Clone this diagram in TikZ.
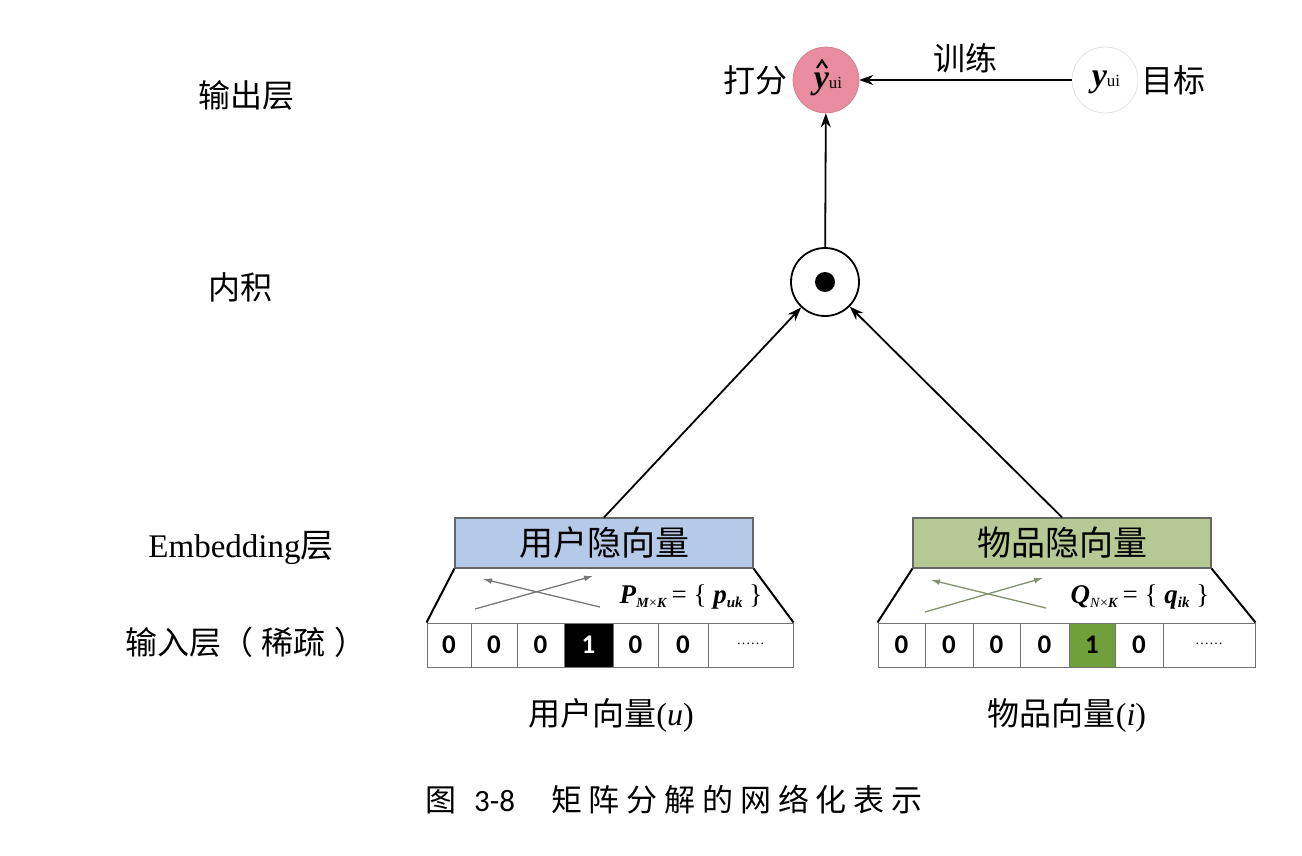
\documentclass[tikz,border=0pt]{standalone}
\usepackage{fontspec}
\setmainfont{Liberation Serif}
\newfontfamily\cjk{Noto Sans CJK SC}
\newfontfamily\cjkwide{Noto Sans CJK SC}[LetterSpace=22]
\newfontfamily\digitfont{Carlito}
\usetikzlibrary{arrows.meta}

\definecolor{pinkfill}{RGB}{234,140,160}
\definecolor{bluefill}{RGB}{181,202,232}
\definecolor{greenfill}{RGB}{182,201,148}
\definecolor{greencell}{RGB}{112,160,60}
\definecolor{crossgray}{RGB}{120,120,120}
\definecolor{crossgreen}{RGB}{130,145,110}

\tikzset{
  lbl/.style={font=\cjk\fontsize{32}{35}\selectfont, inner sep=0pt},
  conn/.style={draw=black, line width=1.8pt, -{Stealth[length=14pt,width=10pt]}},
  cell/.style={draw=black!55, line width=1pt, minimum height=44pt, inner sep=0pt,
               font=\digitfont\bfseries\fontsize{27}{30}\selectfont},
  hidbox/.style={draw=black!60, line width=1.2pt, minimum width=298pt, minimum height=50pt,
                 inner sep=0pt, font=\cjk\fontsize{34}{36}\selectfont},
  trap/.style={draw=black, line width=2pt},
  cross/.style={line width=1.3pt, -{Latex[length=9pt,width=6pt]}},
  formula/.style={inner sep=0pt, font=\fontsize{27}{30}\selectfont},
  yvar/.style={inner sep=0pt, font=\fontsize{34}{36}\selectfont},
}

\begin{document}
\begin{tikzpicture}[x=1pt,y=-1pt]
\useasboundingbox (0,0) rectangle (1302,856);

% layer names on the left
\node[lbl] (lout) at (246,95) {输出层};
\node[lbl] (ldot) at (240,287) {内积};
\node[lbl] (lemb) at (241,548) {\rmfamily\fontsize{33}{35}\selectfont Embedding{\cjk 层}};
\node[lbl] (lin)  at (246,642) {输入层（\hspace{9pt}稀疏\hspace{9pt}）};

% output layer
\node[circle, fill=pinkfill, draw=pinkfill!85!black, line width=0.6pt, minimum size=66pt, inner sep=0pt]
  (yhat) at (826,80) {};
\node[yvar] (yhatlbl) at (828,84) {\textbf{\textit{y}}\fontsize{17}{18}\selectfont ui};
\draw[line width=2.2pt, line join=miter] (817,68) -- (822,60.5) -- (827,68);
\node[lbl, anchor=east] (score) at (788,80) {打分};
\node[circle, draw=black!12, line width=0.8pt, minimum size=66pt, inner sep=0pt]
  (ytrue) at (1105,80) {};
\node[yvar] (ytruelbl) at (1106,82) {\textbf{\textit{y}}\fontsize{17}{18}\selectfont ui};
\node[lbl, anchor=west] (target) at (1141,80) {目标};
\draw[conn] (ytrue) -- node[above=6pt, lbl] (train) {训练} (yhat);

% inner product
\node[circle, draw=black, line width=1.8pt, minimum size=68pt, inner sep=0pt] (dot) at (825,282) {};
\node[circle, fill=black, minimum size=20pt, inner sep=0pt] (dotc) at (dot.center) {};
\draw[conn] (dot) -- (yhat);

% embedding boxes
\node[hidbox, fill=bluefill]  (ubox) at (604,543) {用户隐向量};
\node[hidbox, fill=greenfill] (ibox) at (1062,543) {物品隐向量};
\draw[conn] (ubox.north) -- (dot);
\draw[conn] (ibox.north) -- (dot);

% user one-hot input
\foreach \a/\b/\t/\f/\c [count=\i] in {427/471/0/white/black,471/517/0/white/black,517/564/0/white/black,
    564/613/1/black/white,613/658/0/white/black,658/708/0/white/black}{
  \node[cell, fill=\f, text=\c, minimum width={(\b-\a)*1pt}] (u\i) at ({(\a+\b)/2},645) {\t};
}
\node[cell, minimum width=85pt, font=\fontsize{14}{16}\selectfont] (u7) at (750.5,645) {\raisebox{2pt}{\dots\dots}};
\draw[trap] (ubox.south west) -- (u1.north west);
\draw[trap] (ubox.south east) -- (u7.north east);
\draw[cross, draw=crossgray] (475,609) -- (593,576);
\draw[cross, draw=crossgray] (600,607) -- (483,579);
\node[formula] (pform) at (691,597)
  {\textbf{\textit{P}}\raisebox{-4pt}{\fontsize{14}{15}\selectfont\textbf{\textit{M}}×\textbf{\textit{K}}}\,= \{ \textbf{\textit{p}}\raisebox{-4pt}{\fontsize{15}{16}\selectfont\textbf{\textit{uk}}} \}};
\node[lbl] (ucap) at (611,715) {用户向量\rmfamily(\textit{u})};

% item one-hot input
\foreach \a/\b/\t/\f [count=\i] in {878/925/0/white,925/973/0/white,973/1020/0/white,
    1020/1069/0/white,1069/1115/1/greencell,1115/1163/0/white}{
  \node[cell, fill=\f, minimum width={(\b-\a)*1pt}] (v\i) at ({(\a+\b)/2},645) {\t};
}
\node[cell, minimum width=92pt, font=\fontsize{14}{16}\selectfont] (v7) at (1209,645) {\raisebox{2pt}{\dots\dots}};
\draw[trap] (ibox.south west) -- (v1.north west);
\draw[trap] (ibox.south east) -- (v7.north east);
\draw[cross, draw=crossgreen] (925,612) -- (1043,578);
\draw[cross, draw=crossgreen] (1046,608) -- (931,580);
\node[formula] (qform) at (1140,597)
  {\textbf{\textit{Q}}\raisebox{-4pt}{\fontsize{14}{15}\selectfont\textit{N}×\textbf{\textit{K}}}\,= \{ \textbf{\textit{q}}\raisebox{-4pt}{\fontsize{15}{16}\selectfont\textbf{\textit{ik}}} \}};
\node[lbl] (icap) at (1067,715) {物品向量\rmfamily(\textit{i})};

% caption
\node[inner sep=0pt, anchor=west, font=\fontsize{31}{33}\selectfont] (caption) at (425,800)
  {{\cjk 图}\hspace{18pt}{\digitfont 3-8}\hspace{36pt}{\cjkwide 矩阵分解的网络化表示}};
\end{tikzpicture}
\end{document}
